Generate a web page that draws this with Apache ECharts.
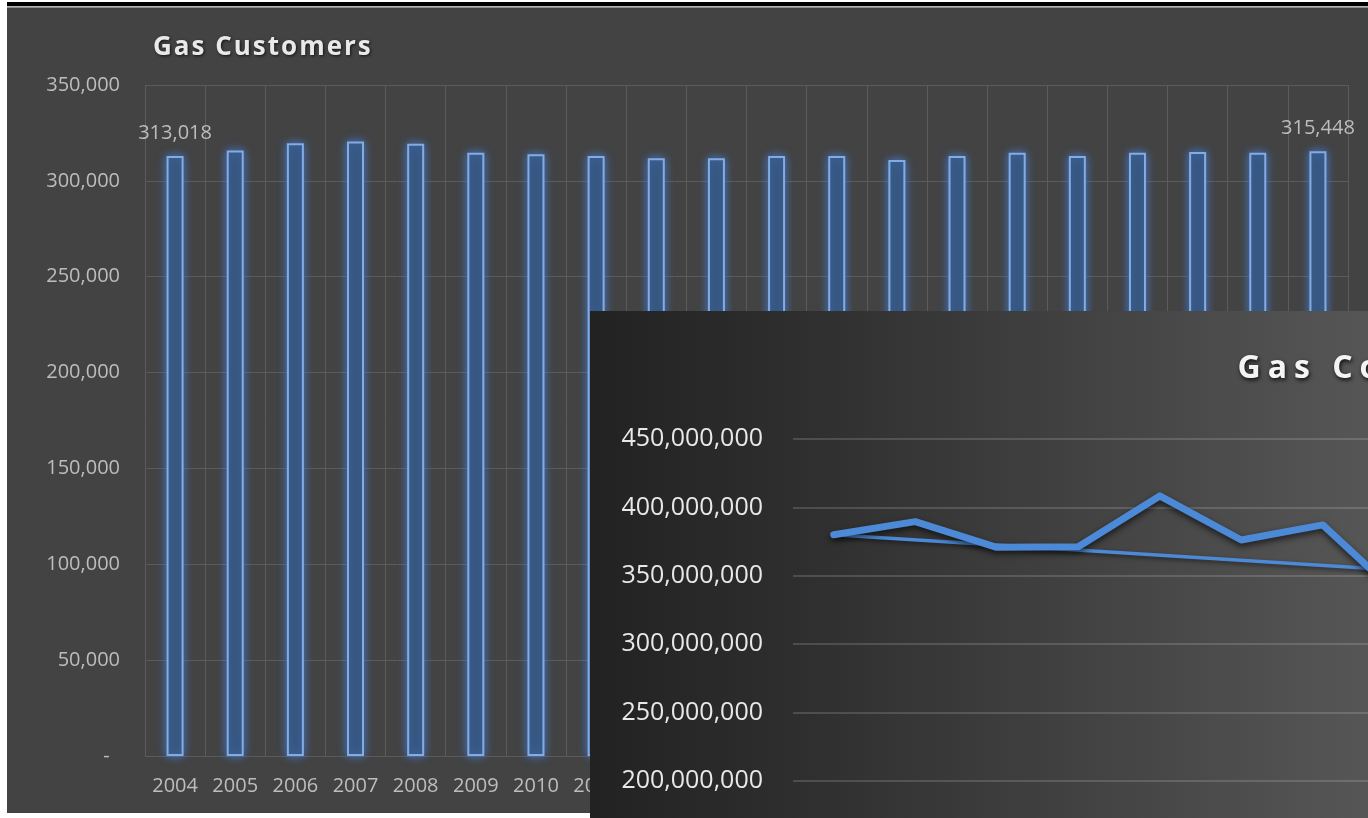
<!DOCTYPE html>
<html>
<head>
<meta charset="utf-8">
<title>Gas Customers / Gas Consumption</title>
<script src="https://cdn.jsdelivr.net/npm/echarts@6/dist/echarts.min.js"></script>
<style>
  html, body { margin: 0; padding: 0; width: 1368px; height: 818px; overflow: hidden; background: #ffffff; }
  #frameTop { position: absolute; left: 7px; top: 2px; width: 1400px; height: 4px; background: #000; }
  #frameEdge { position: absolute; left: 7px; top: 6px; width: 1400px; height: 2px; background: linear-gradient(#c9c9c9, #7a7a7a); }
  #customers { position: absolute; left: 7px; top: 8px; width: 1400px; height: 805px; background: #434343; }
  #consumption { position: absolute; left: 590px; top: 311px; width: 1700px; height: 760px;
    background: linear-gradient(90deg, #222222 0px, #2e2e2e 206px, #565656 778px, #5e5e5e 1700px); }
</style>
</head>
<body>
<div id="frameTop"></div>
<div id="frameEdge"></div>
<div id="customers"></div>
<div id="consumption"></div>
<script>
// Years shown on both charts
const years = ['2004','2005','2006','2007','2008','2009','2010','2011','2012','2013',
               '2014','2015','2016','2017','2018','2019','2020','2021','2022','2023'];

// Number of gas customers per year
const customers = [313018, 315800, 319600, 320500, 319400, 314700, 313900, 313000, 311800, 311800,
                   313000, 313000, 310900, 313000, 314700, 313000, 314700, 315100, 314700, 315448];

// Annual gas consumption
const consumption = [380000000, 389600000, 370800000, 371300000, 408400000, 376200000, 387200000, 332000000];

// Straight trend line through the consumption series (end points only)
const consumptionTrend = [380000000, null, null, null, null, null, null, 353900000];

const FONT = '"Open Sans", "Noto Sans", sans-serif';
const fmt = v => v === 0 ? '-  ' : Number(v).toLocaleString('en-US');

// Wraps every character in a rich-text token so the title can be letter-spaced
const spaced = text => text.split('').map(c => '{c|' + c + '}').join('');

// ---------- Gas Customers (bars) ----------
const barChart = echarts.init(document.getElementById('customers'), null, { renderer: 'canvas' });
const lastIdx = customers.length - 1;
barChart.setOption({
  backgroundColor: 'transparent',
  animation: false,
  title: {
    text: spaced('Gas Customers'),
    left: 140, top: 22,
    textStyle: {
      fontFamily: FONT, fontSize: 26, fontWeight: 'bold', color: '#e9e9e9',
      rich: {
        c: {
          fontFamily: FONT, fontSize: 26, fontWeight: 'bold', color: '#e9e9e9', padding: [0, 1, 0, 1],
          textShadowColor: 'rgba(0,0,0,0.7)', textShadowBlur: 3, textShadowOffsetX: 1, textShadowOffsetY: 1
        }
      }
    }
  },
  grid: { left: 138, top: 77, width: 1203, height: 671, containLabel: false, outerBoundsMode: 'none' },
  xAxis: {
    type: 'category',
    data: years,
    boundaryGap: true,
    axisLine: { show: false },
    axisTick: { show: false },
    splitLine: { show: true, lineStyle: { color: '#5b5b5b', width: 1 } },
    axisLabel: { interval: 0, margin: 20, color: '#bdbdbd', fontFamily: FONT, fontSize: 20 }
  },
  yAxis: {
    type: 'value',
    min: 0, max: 350000, interval: 50000,
    axisLine: { show: false },
    axisTick: { show: false },
    splitLine: { show: true, lineStyle: { color: '#5b5b5b', width: 1 } },
    axisLabel: { margin: 25, color: '#bdbdbd', fontFamily: FONT, fontSize: 20, formatter: fmt }
  },
  series: [{
    type: 'bar',
    barWidth: 17,
    data: customers.map((v, i) => ({
      value: v,
      label: { show: i === 0 || i === lastIdx }
    })),
    label: {
      position: 'top', distance: 13,
      color: '#bdbdbd', fontFamily: FONT, fontSize: 20,
      formatter: p => Number(p.value).toLocaleString('en-US')
    },
    itemStyle: {
      color: '#36547a',
      borderColor: '#84ace4',
      borderWidth: 2,
      shadowBlur: 10,
      shadowColor: 'rgba(70,130,225,0.85)'
    }
  }]
});

// ---------- Gas Consumption (line) ----------
const lineChart = echarts.init(document.getElementById('consumption'), null, { renderer: 'canvas' });
const lineBlue = '#4c89d6';
lineChart.setOption({
  backgroundColor: 'transparent',
  animation: false,
  title: {
    text: spaced('Gas Consumption'),
    left: 639, top: 37,
    textStyle: {
      fontFamily: FONT, fontSize: 32, fontWeight: 'bold', color: '#f4f4f4',
      rich: {
        c: {
          fontFamily: FONT, fontSize: 32, fontWeight: 'bold', color: '#f4f4f4', padding: [0, 3.5, 0, 3.5],
          textShadowColor: 'rgba(0,0,0,0.85)', textShadowBlur: 4, textShadowOffsetX: 1, textShadowOffsetY: 2
        }
      }
    }
  },
  grid: { left: 203, top: 128, width: 1630, height: 615.6, containLabel: false, outerBoundsMode: 'none' },
  xAxis: {
    type: 'category',
    data: years,
    boundaryGap: true,
    axisLine: { show: false },
    axisTick: { show: false },
    splitLine: { show: false },
    axisLabel: { color: '#e6e6e6', fontFamily: FONT, fontSize: 20 }
  },
  yAxis: {
    type: 'value',
    min: 0, max: 450000000, interval: 50000000,
    axisLine: { show: false },
    axisTick: { show: false },
    splitLine: { show: true, lineStyle: { color: 'rgba(255,255,255,0.15)', width: 2 } },
    axisLabel: { margin: 30, color: '#e8e8e8', fontFamily: FONT, fontSize: 25, formatter: fmt }
  },
  series: [
    {
      name: 'Consumption',
      type: 'line',
      data: consumption,
      symbol: 'none',
      lineStyle: {
        color: lineBlue, width: 7, join: 'round', cap: 'round',
        shadowColor: 'rgba(0,0,0,0.65)', shadowBlur: 6, shadowOffsetY: 3
      },
      z: 3
    },
    {
      name: 'Trend',
      type: 'line',
      data: consumptionTrend,
      connectNulls: true,
      symbol: 'none',
      lineStyle: {
        color: lineBlue, width: 3.5,
        shadowColor: 'rgba(0,0,0,0.5)', shadowBlur: 4, shadowOffsetY: 2
      },
      z: 2
    }
  ]
});
</script>
</body>
</html>
